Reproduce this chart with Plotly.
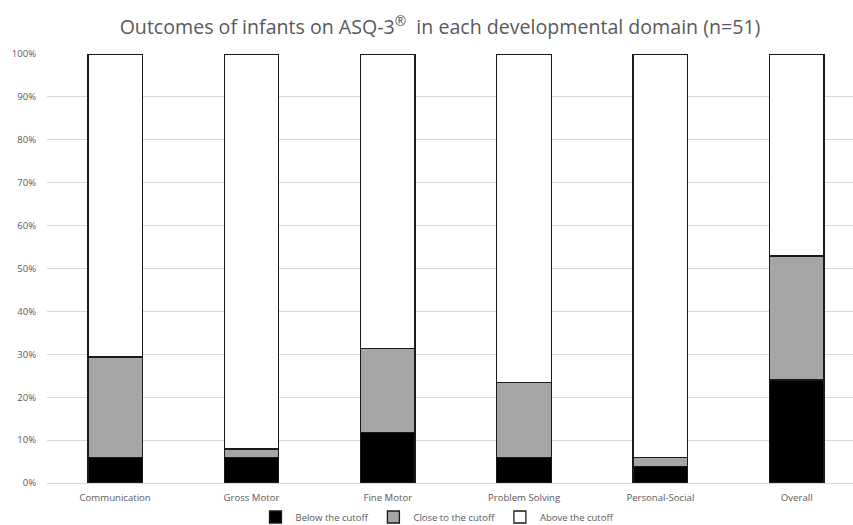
import plotly.graph_objects as go

categories = ["Communication", "Gross Motor", "Fine Motor", "Problem Solving", "Personal-Social", "Overall"]
below = [5.9, 5.9, 11.8, 5.9, 3.9, 24.0]
close = [23.5, 2.0, 19.6, 17.6, 2.0, 28.9]
above = [70.6, 92.1, 68.6, 76.5, 94.1, 47.1]
series_names = ["Below the cutoff", "Close to the cutoff", "Above the cutoff"]
series_colors = ["#000000", "#a6a6a6", "#ffffff"]
yticks = [0, 10, 20, 30, 40, 50, 60, 70, 80, 90, 100]
ytick_text = [f"{v}%" for v in yticks]

fig = go.Figure()
for name, vals, col in zip(series_names, [below, close, above], series_colors):
    fig.add_trace(go.Bar(
        x=categories, y=vals, name=name,
        marker=dict(color=col, line=dict(color="#1a1a1a", width=1.3)),
        width=0.4,
    ))

fig.update_layout(
    barmode="stack",
    width=853, height=525,
    paper_bgcolor="white", plot_bgcolor="white",
    margin=dict(l=47, r=0, t=54, b=42, autoexpand=False),
    title=dict(text="Outcomes of infants on ASQ-3<sup>®</sup>  in each developmental domain (n=51)",
               x=440/853, xanchor="center", y=1-27/525, yanchor="middle",
               font=dict(family="Open Sans", size=19.6, color="#595959")),
    font=dict(family="Open Sans", color="#595959"),
    xaxis=dict(range=[-0.5, 5.413], showgrid=False, showline=False, ticks="",
               ticklabelstandoff=7,
               tickfont=dict(size=9.6, color="#595959", family="Open Sans")),
    yaxis=dict(range=[0, 100], tickvals=yticks, ticktext=ytick_text,
               showgrid=True, gridcolor="#d9d9d9", gridwidth=1,
               zeroline=True, zerolinecolor="#d9d9d9", zerolinewidth=1,
               showline=False, ticks="", ticklabelstandoff=10,
               tickfont=dict(size=9.5, color="#595959", family="Open Sans")),
    legend=dict(orientation="h", x=(437-47)/806, xanchor="center", y=-34/429, yanchor="middle",
                font=dict(size=9.5, color="#595959"), traceorder="normal"),
    bargap=0.6,
)

fig.write_html("out.html")
